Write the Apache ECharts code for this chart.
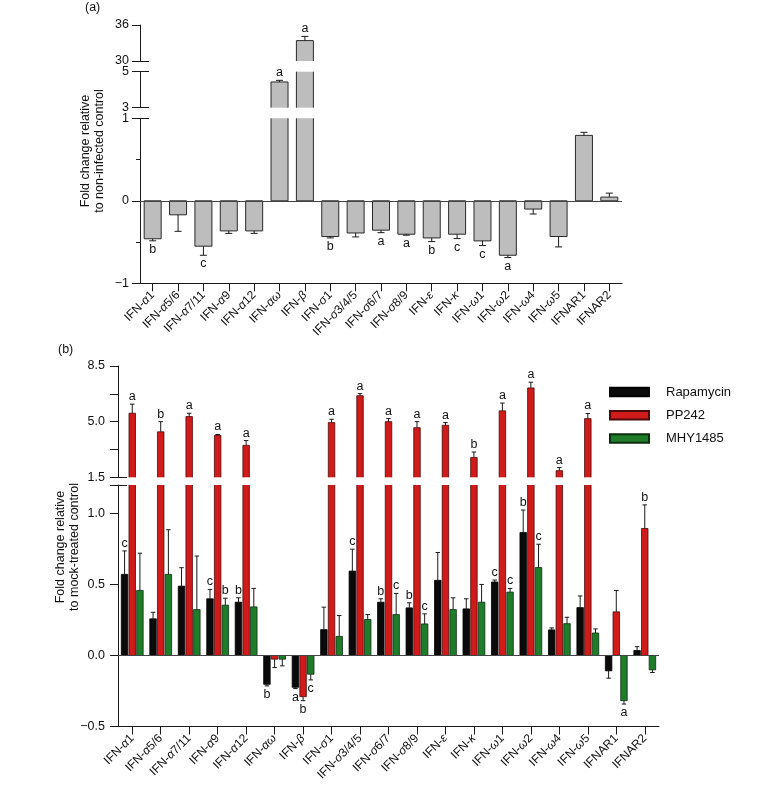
<!DOCTYPE html>
<html><head><meta charset="utf-8">
<script src="https://cdn.jsdelivr.net/npm/echarts@6/dist/echarts.min.js"></script>
<style>html,body{margin:0;padding:0;background:#fff}#c{width:766px;height:799px}</style>
</head><body><div id="c"></div><script>
// ---------- data ----------
const categories = ['IFN-α1','IFN-α5/6','IFN-α7/11','IFN-α9','IFN-α12','IFN-αω','IFN-β','IFN-σ1','IFN-σ3/4/5','IFN-σ6/7','IFN-σ8/9','IFN-ε','IFN-κ','IFN-ω1','IFN-ω2','IFN-ω4','IFN-ω5','IFNAR1','IFNAR2'];

// panel (a): fold change relative to non-infected control
const infectedValues = [-0.46,-0.17,-0.55,-0.365,-0.365,4.43,33.4,-0.433,-0.39,-0.356,-0.405,-0.45,-0.405,-0.486,-0.66,-0.10,-0.433,0.793,0.045];
const infectedErr    = [0.025,0.20,0.11,0.03,0.03,0.09,0.7,0.017,0.048,0.03,0.012,0.044,0.053,0.057,0.028,0.06,0.126,0.037,0.048];
const infectedSig    = ['b','','c','','','a','a','b','','a','a','b','c','c','a','','','',''];

// panel (b): fold change relative to mock-treated control
const rapaValues = [0.571,0.258,0.488,0.399,0.375,-0.203,-0.224,0.182,0.594,0.375,0.335,0.529,0.328,0.517,0.866,0.18,0.337,-0.108,0.035];
const rapaErr    = [0.165,0.046,0.13,0.066,0.031,0.011,0.009,0.158,0.154,0.024,0.036,0.196,0.071,0.014,0.158,0.014,0.082,0.052,0.027];
const rapaSig    = ['c','','','c','b','b','a','','c','b','b','','','c','b','','','',''];

const ppValues = [5.53,4.36,5.32,4.13,3.51,-0.026,-0.29,4.94,6.63,5.0,4.62,4.77,2.75,5.68,7.12,1.92,5.19,0.307,0.894];
const ppErr    = [0.57,0.64,0.21,0.06,0.30,0.059,0.028,0.21,0.13,0.19,0.38,0.17,0.34,0.49,0.36,0.19,0.32,0.151,0.166];
const ppSig    = ['a','b','a','a','a','','b','a','a','a','a','a','b','a','a','a','a','','b'];

const mhyValues = [0.458,0.571,0.323,0.354,0.342,-0.026,-0.132,0.134,0.253,0.288,0.222,0.323,0.375,0.446,0.619,0.224,0.158,-0.318,-0.101];
const mhyErr    = [0.262,0.314,0.377,0.049,0.13,0.047,0.04,0.147,0.035,0.149,0.071,0.083,0.125,0.026,0.164,0.045,0.029,0.024,0.019];
const mhySig    = ['','','','b','','','c','','','c','c','','','c','c','','','a',''];

// axis segments (broken axes) and ticks
const aTopTicks = [30,36], aMidTicks = [3,5], aLowTicks = [-1,0,1], aLowMinor = [-0.5,0.5];
const bTopTicks = [1.5,3.25,5.0,6.75,8.5], bTopLabels = [1.5,5.0,8.5];
const bLowTicks = [-0.5,0,0.5,1.0,1.2], bLowLabels = [-0.5,0,0.5,1.0];

// ---------- layout / style ----------
const FONT = '"Liberation Sans", Arial, Helvetica, sans-serif';
const AX = '#1a1a1a';
const aSeg = [
  {top:25,    height:36,  min:30, max:36, ticks:aTopTicks, labels:aTopTicks, brk:[30]},
  {top:71.7,  height:36,  min:3,  max:5,  ticks:aMidTicks, labels:aMidTicks, brk:[3,5]},
  {top:118.3, height:165, min:-1, max:1,  ticks:aLowTicks, labels:aLowTicks, brk:[1], minor:aLowMinor, bottom:true}
];
const bSeg = [
  {top:366, height:111.3, min:1.5, max:8.5, ticks:bTopTicks, labels:bTopLabels, brk:[1.5], dec:1},
  {top:485, height:241.5, min:-0.5, max:1.2, ticks:bLowTicks, labels:bLowLabels, brk:[1.2], dec:1, bottom:true}
];

function minusFmt(dec){ return v => { const s = dec ? Math.abs(v).toFixed(dec) : String(Math.abs(v)); return (v < 0 ? '\u2212' : '') + s; }; }
function catFmt(name){
  const m = /^IFN-([αβσεκω]+)(.*)$/.exec(name);
  if (!m) return '{n|' + name + '}';
  return '{n|IFN-}{g|' + m[1] + '}' + (m[2] ? '{n|' + m[2] + '}' : '');
}

const grid = [], xAxis = [], yAxis = [], series = [];

function addPanel(segs, left, width, labelMargin, tickMargin){
  const axesIdx = [];
  segs.forEach(seg => {
    const gi = grid.length;
    grid.push({left, width, top:seg.top, height:seg.height, containLabel:false, outerBoundsMode:'none'});
    xAxis.push({
      type:'category', gridIndex:gi, data:categories, show:!!seg.bottom,
      axisLine:{show:true, onZero:false, lineStyle:{color:AX, width:1}},
      axisTick:{show:true, alignWithLabel:true, length:8, lineStyle:{color:AX}},
      axisLabel:{show:true, interval:0, rotate:45, margin:10, formatter:catFmt,
        rich:{n:{fontSize:12, fontFamily:FONT, color:'#111'}, g:{fontSize:12, fontFamily:FONT, fontStyle:'italic', color:'#111'}}},
      splitLine:{show:false}
    });
    const yi = yAxis.length;
    yAxis.push({
      type:'value', gridIndex:gi, min:seg.min, max:seg.max, position:'left',
      axisLine:{show:true, lineStyle:{color:AX, width:1}},
      axisTick:{show:true, inside:false, length:8, customValues:seg.ticks, lineStyle:{color:AX}},
      axisLabel:{show:true, customValues:seg.labels, formatter:minusFmt(seg.dec), margin:labelMargin, fontSize:12.5, fontFamily:FONT, color:'#111'},
      splitLine:{show:false}
    });
    yAxis.push({
      type:'value', gridIndex:gi, min:seg.min, max:seg.max, position:'left',
      axisLine:{show:false}, axisLabel:{show:false}, splitLine:{show:false},
      axisTick:{show:true, inside:true, length:tickMargin, customValues:seg.brk, lineStyle:{color:AX}}
    });
    if (seg.minor) {
      yAxis.push({
        type:'value', gridIndex:gi, min:seg.min, max:seg.max, position:'left',
        axisLine:{show:false}, axisLabel:{show:false}, splitLine:{show:false},
        axisTick:{show:true, inside:false, length:4, customValues:seg.minor, lineStyle:{color:AX}}
      });
    }
    axesIdx.push({gi, yi, seg});
  });
  return axesIdx;
}

// bars drawn through the axes; edges cut by an axis break get no border
function barSeries(ax, values, slot, nSlots, barW, gapR, fill, stroke, lw){
  return {
    type:'custom', xAxisIndex:ax.gi, yAxisIndex:ax.yi, silent:true, z:2,
    data: values.map((v,i) => [i, v]), encode:{x:0, y:1},
    renderItem(params, api){
      const cs = params.coordSys;
      const i = api.value(0), v = api.value(1);
      const pv = api.coord([i, v]), p0 = api.coord([i, 0]);
      const cx = pv[0] + (slot - (nSlots - 1) / 2) * barW * (1 + gapR);
      const top = Math.min(pv[1], p0[1]), bot = Math.max(pv[1], p0[1]);
      const y1 = Math.max(top, cs.y), y2 = Math.min(bot, cs.y + cs.height);
      if (y2 - y1 <= 0.01) return null;
      const x1 = cx - barW / 2, x2 = cx + barW / 2;
      const st = {stroke:stroke, lineWidth:lw};
      const kids = [
        {type:'rect', shape:{x:x1, y:y1, width:barW, height:y2 - y1}, style:{fill:fill}},
        {type:'line', shape:{x1:x1, y1:y1, x2:x1, y2:y2}, style:st},
        {type:'line', shape:{x1:x2, y1:y1, x2:x2, y2:y2}, style:st}
      ];
      if (top >= cs.y - 0.01) kids.push({type:'line', shape:{x1:x1, y1:top, x2:x2, y2:top}, style:st});
      if (bot <= cs.y + cs.height + 0.01) kids.push({type:'line', shape:{x1:x1, y1:bot, x2:x2, y2:bot}, style:st});
      return {type:'group', children:kids};
    }
  };
}

function errSeries(ax, values, errs, sigs, slot, nSlots, barW, gapR, capW){
  const ext = [ax.seg.min, ax.seg.max];
  const data = values.map((v,i) => [i, v, v >= 0 ? v + errs[i] : v - errs[i]]);
  return {
    type:'custom', xAxisIndex:ax.gi, yAxisIndex:ax.yi, silent:true, z:4, data,
    encode:{x:0, y:[1,2]},
    renderItem(params, api){
      const v = api.value(1), e = api.value(2);
      if (v < ext[0] || v > ext[1]) return null;
      const p0 = api.coord([api.value(0), v]);
      const p1 = api.coord([api.value(0), e]);
      const x = p0[0] + (slot - (nSlots - 1) / 2) * barW * (1 + gapR);
      const st = {stroke:'#1a1a1a', lineWidth:1};
      const kids = [
        {type:'line', shape:{x1:x, y1:p0[1], x2:x, y2:p1[1]}, style:st},
        {type:'line', shape:{x1:x - capW/2, y1:p1[1], x2:x + capW/2, y2:p1[1]}, style:st}
      ];
      const s = sigs[params.dataIndex];
      if (s) {
        const up = v >= 0;
        kids.push({type:'text', style:{text:s, x:x, y: up ? p1[1] - 1 : p1[1] + 2,
          textAlign:'center', textVerticalAlign: up ? 'bottom' : 'top',
          font:'12.5px ' + FONT, fill:'#111'}});
      }
      return {type:'group', children:kids};
    }
  };
}

function zeroLineHost(ax, values){
  return {type:'line', xAxisIndex:ax.gi, yAxisIndex:ax.yi, data:values, symbol:'none', silent:true, z:3,
    lineStyle:{opacity:0}, itemStyle:{opacity:0},
    markLine:{silent:true, symbol:['none','none'], label:{show:false}, animation:false,
      lineStyle:{color:'#444', width:1.2, type:'solid'}, data:[{yAxis:0}]}};
}

// panel (a)
const aAxes = addPanel(aSeg, 140, 482, 11, 9);
aAxes.forEach(ax => {
  series.push(barSeries(ax, infectedValues, 0, 1, 17, 0, '#bdbdbd', '#2a2a2a', 1));
  series.push(errSeries(ax, infectedValues, infectedErr, infectedSig, 0, 1, 17, 0, 7));
  if (ax.seg.bottom) series.push(zeroLineHost(ax, infectedValues));
});

// panel (b)
const bAxes = addPanel(bSeg, 118, 541, 13, 9);
const bSeries = [
  {name:'Rapamycin', values:rapaValues, errs:rapaErr, sigs:rapaSig, color:'#0a0a0a', border:'#000'},
  {name:'PP242',     values:ppValues,   errs:ppErr,   sigs:ppSig,   color:'#d11a1a', border:'#4a0a0a'},
  {name:'MHY1485',   values:mhyValues,  errs:mhyErr,  sigs:mhySig,  color:'#1f7d2a', border:'#0b2e10'}
];
const BW = 6.5, BG = 0.18;
bAxes.forEach(ax => {
  bSeries.forEach((s, k) => series.push(barSeries(ax, s.values, k, 3, BW, BG, s.color, s.border, 0.8)));
  bSeries.forEach((s, k) => series.push(errSeries(ax, s.values, s.errs, s.sigs, k, 3, BW, BG, 4.5)));
  if (ax.seg.bottom) series.push(zeroLineHost(ax, rapaValues));
});
// legend entries (no data of their own)
bSeries.forEach(s => series.push({type:'bar', name:s.name, xAxisIndex:bAxes[0].gi, yAxisIndex:bAxes[0].yi, data:[],
  itemStyle:{color:s.color, borderColor:s.border, borderWidth:1}}));

const chart = echarts.init(document.getElementById('c'), null, {renderer:'canvas'});
chart.setOption({
  animation:false,
  backgroundColor:'#fff',
  textStyle:{fontFamily:FONT},
  grid, xAxis, yAxis, series,
  legend:{
    orient:'vertical', left:609, top:385, padding:0, itemWidth:39, itemHeight:8.5, itemGap:9.3, icon:'rect', selectedMode:false,
    data:['Rapamycin','PP242','MHY1485'],
    textStyle:{fontSize:13, fontFamily:FONT, color:'#111', padding:[0,0,0,12], lineHeight:14}
  },
  graphic:[
    {type:'text', x:85, y:1, style:{text:'(a)', font:'12.5px ' + FONT, fill:'#111'}},
    {type:'text', x:58, y:343, style:{text:'(b)', font:'12.5px ' + FONT, fill:'#111'}},
    {type:'text', x:93, y:151, rotation:Math.PI/2,
      style:{text:'Fold change relative\nto non-infected control', font:'12.5px ' + FONT, fill:'#111', textAlign:'center', textVerticalAlign:'middle', lineHeight:14}},
    {type:'text', x:68, y:547, rotation:Math.PI/2,
      style:{text:'Fold change relative\nto mock-treated control', font:'12.5px ' + FONT, fill:'#111', textAlign:'center', textVerticalAlign:'middle', lineHeight:14}}
  ]
});
</script></body></html>
